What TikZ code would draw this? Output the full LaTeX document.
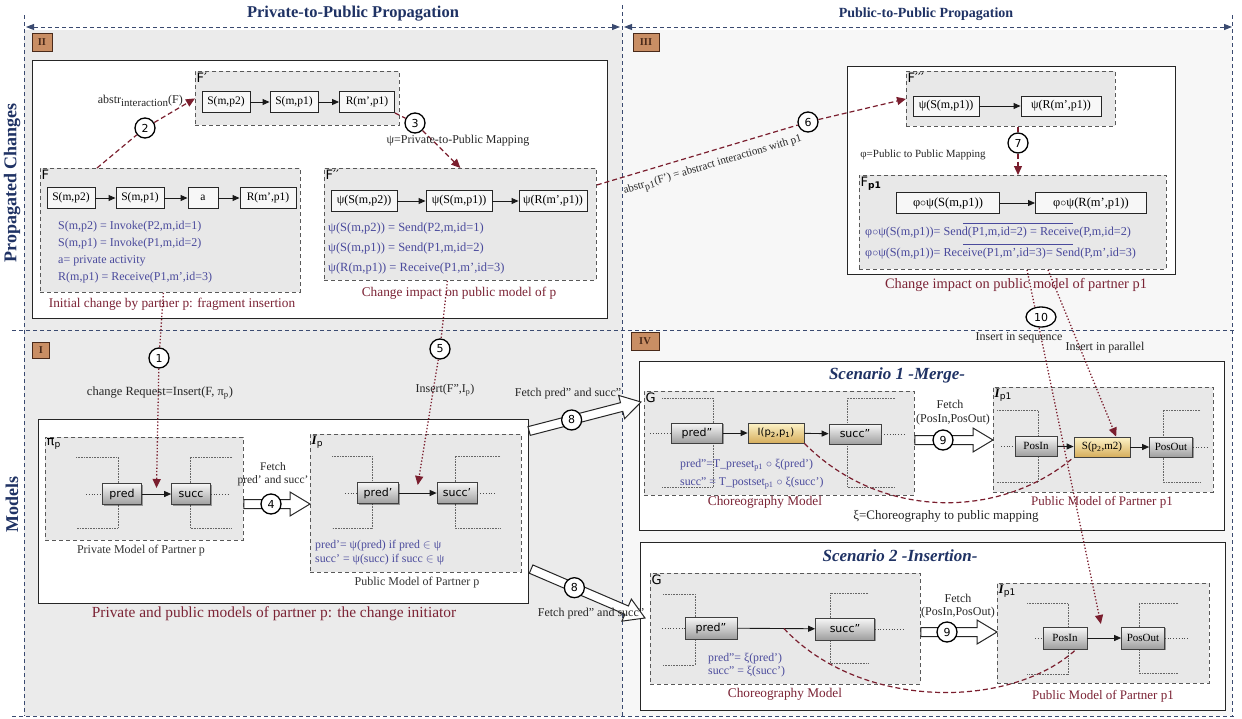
\documentclass[tikz,border=0pt]{standalone}
\usepackage{fontspec}
\setmainfont{Liberation Serif}
\setsansfont{DejaVu Sans}
\usetikzlibrary{calc,arrows.meta,shapes.geometric,shadows}

\definecolor{navy}{HTML}{1F3264}
\definecolor{sepc}{HTML}{3A4A70}
\definecolor{dred}{HTML}{7A1E2E}
\definecolor{capred}{HTML}{7B2335}
\definecolor{eqblue}{HTML}{4A4A9C}
\definecolor{tagfill}{HTML}{C98E64}
\definecolor{tagline}{HTML}{4A2A1A}
\definecolor{ytop}{HTML}{FDF3C8}
\definecolor{ybot}{HTML}{D6AE5C}

\newcommand\fsz[1]{\fontsize{#1}{#1}\selectfont}

% hollow block arrow from #1 to #2
\newcommand\fatarrow[2]{%
  \coordinate (fahead) at ($(#2)!20pt!(#1)$);
  \draw[black!85, line width=1pt, fill=white, line join=miter]
    ($(#1)!4.5pt!90:(#2)$) -- ($(fahead)!4.5pt!90:(#2)$) -- ($(fahead)!12pt!90:(#2)$)
    -- (#2) -- ($(fahead)!12pt!-90:(#2)$) -- ($(fahead)!4.5pt!-90:(#2)$)
    -- ($(#1)!4.5pt!-90:(#2)$) -- cycle;}

% open dotted bracket: #1 = outer x, #2 = inner x, #3 = top y, #4 = bottom y
\newcommand\brk[4]{\draw[brk] (#1,#3) -- (#2,#3) -- (#2,#4) -- (#1,#4);}

\begin{document}
\begin{tikzpicture}[x=1pt,y=-1pt,
  every node/.style={inner sep=1pt},
  frag/.style={draw=black!65, line width=0.8pt, dash pattern=on 4pt off 3pt, fill=black!9},
  panel/.style={draw=black!85, line width=1.1pt, fill=white},
  act/.style={draw=black!85, line width=0.9pt, fill=black!3, minimum height=21, font=\fsz{11.5}},
  gbox/.style={draw=black!75, line width=0.7pt, top color=black!3, bottom color=black!38,
     minimum height=21, font=\sffamily\fsz{11},
     drop shadow={shadow xshift=1.3pt, shadow yshift=-1.3pt, opacity=0.35, fill=black}},
  gboxs/.style={gbox, font=\fsz{11}},
  ybox/.style={gbox, top color=ytop, bottom color=ybot},
  tag/.style={draw=tagline, line width=1pt, fill=tagfill, font=\bfseries\fsz{10.5}, text=tagline},
  num/.style={circle, draw=black, line width=1.3pt, fill=white, font=\sffamily\fsz{11}, minimum size=20, inner sep=0pt},
  eq/.style={text=eqblue, font=\fsz{12}, anchor=west},
  captxt/.style={text=capred, font=\fsz{13.3}},
  dcaptxt/.style={text=black!80, font=\fsz{12}},
  note/.style={text=black!85, font=\fsz{12}},
  lbl/.style={font=\sffamily\fsz{13}, anchor=north west, inner sep=1.5pt},
  flow/.style={-{Triangle[length=7pt,width=6pt]}, line width=0.9pt, black!90},
  lead/.style={dotted, line width=0.8pt, black!70},
  brk/.style={densely dotted, line width=0.6pt, black!60},
  rdash/.style={dred, line width=1.2pt, dash pattern=on 5pt off 3pt},
  rarr/.style={rdash, -{Triangle[length=9pt,width=8pt]}},
  rdot/.style={dred, dotted, line width=1.3pt, -{Triangle[length=9pt,width=8pt]}},
  sepline/.style={sepc, line width=1pt, dash pattern=on 4pt off 3pt},
  sctitle/.style={font=\bfseries\itshape\fsz{17}, text=navy}
]
\useasboundingbox (0,0) rectangle (1242,718);

% ---------- backdrop and frame ----------
\fill[white] (0,0) rectangle (1242,718);
\fill[black!8] (24,30) rectangle (622,716);
\fill[black!3] (622,30) rectangle (1232,716);

\node[font=\bfseries\fsz{16.5}, text=navy] (hdrL) at (353,14) {Private-to-Public Propagation};
\node[font=\bfseries\fsz{14}, text=navy] (hdrR) at (926,14) {Public-to-Public Propagation};
\node[font=\bfseries\fsz{18}, text=navy, rotate=90] (rowT) at (12,183) {Propagated Changes};
\node[font=\bfseries\fsz{18}, text=navy, rotate=90] (rowB) at (12,504) {Models};

\draw[sepline] (24,15) -- (24,716);
\draw[sepline] (622,5) -- (622,718);
\draw[sepline] (1232,15) -- (1232,716);
\draw[sepline] (12,330) -- (1236,330);
\draw[sepline] (12,716) -- (1236,716);
\draw[sepline, {Triangle[length=8pt,width=6pt]}-{Triangle[length=8pt,width=6pt]}] (26,27) -- (620,27);
\draw[sepline, {Triangle[length=8pt,width=6pt]}-{Triangle[length=8pt,width=6pt]}] (624,27) -- (1232,27);

% ---------- II : initial change and its public impact ----------
\node[tag, minimum width=20, minimum height=18] (tagII) at (42,42) {II};
\node[panel, anchor=north west, minimum width=575, minimum height=258] (panelII) at (32,60) {};

\node[frag, anchor=north west, minimum width=204, minimum height=54] (Fp) at (195,71) {};
\node[lbl] (FpL) at (Fp.north west) {F′};
\node[act, minimum width=48] (fp1) at (226,102) {S(m,p2)};
\node[act, minimum width=48] (fp2) at (294,102) {S(m,p1)};
\node[act, minimum width=55] (fp3) at (367,102) {R(m',p1)};
\draw[flow] (fp1) -- (fp2);
\draw[flow] (fp2) -- (fp3);

\node[frag, anchor=north west, minimum width=260, minimum height=124] (F) at (40,168) {};
\node[lbl] (FL) at (F.north west) {F};
\node[act, minimum width=48] (f1) at (71,198) {S(m,p2)};
\node[act, minimum width=48] (f2) at (140,198) {S(m,p1)};
\node[act, minimum width=30] (f3) at (203,198) {a};
\node[act, minimum width=56] (f4) at (268,198) {R(m',p1)};
\draw[flow] (f1) -- (f2);
\draw[flow] (f2) -- (f3);
\draw[flow] (f3) -- (f4);
\node[eq] (feq1) at (57,227) {S(m,p2) = Invoke(P2,m,id=1)};
\node[eq] (feq2) at (57,244) {S(m,p1) = Invoke(P1,m,id=2)};
\node[eq] (feq3) at (57,261) {a= private activity};
\node[eq] (feq4) at (57,278) {R(m,p1) = Receive(P1,m',id=3)};
\node[captxt] (capF) at (172,304) {Initial change by partner p: fragment insertion};

\coordinate (Ftop) at ($(F.north west)+(57,0)$);
\node[num] (n2) at (145,128) {2};
\draw[rarr] (Ftop) -- (n2) -- (Fp.west);
\node[note, anchor=east] (l2) at (184,101) {abstr\raisebox{-3.5pt}{\fsz{11}interaction}(F)};

\node[frag, anchor=north west, minimum width=272, minimum height=112] (Fpp) at (324,168) {};
\node[lbl] (FppL) at (Fpp.north west) {F′′};
\node[act, minimum width=66, font=\fsz{12}] (g1) at (364,201) {ψ(S(m,p2))};
\node[act, minimum width=66, font=\fsz{12}] (g2) at (459,201) {ψ(S(m,p1))};
\node[act, minimum width=68, font=\fsz{12}] (g3) at (553,201) {ψ(R(m',p1))};
\draw[flow] (g1) -- (g2);
\draw[flow] (g2) -- (g3);
\node[eq, font=\fsz{12.5}] (geq1) at (327,228) {ψ(S(m,p2)) = Send(P2,m,id=1)};
\node[eq, font=\fsz{12.5}] (geq2) at (327,248) {ψ(S(m,p1)) = Send(P1,m,id=2)};
\node[eq, font=\fsz{12.5}] (geq3) at (327,268) {ψ(R(m,p1)) = Receive(P1,m',id=3)};
\node[captxt] (capFpp) at (459,293) {Change impact on public model of p};

\node[num] (n3) at (415,123) {3};
\draw[rarr] (fp3.south east) -- (n3) -- (Fpp.north);
\node[note] (l3) at (458,141) {ψ=Private-to-Public Mapping};

% ---------- III : propagation to partner p1 ----------
\node[tag, minimum width=26, minimum height=18] (tagIII) at (646,42) {III};
\node[panel, anchor=north west, minimum width=328, minimum height=208] (panelIII) at (847,66) {};

\node[frag, anchor=north west, minimum width=209, minimum height=55] (F3) at (906,71) {};
\node[lbl] (F3L) at (F3.north west) {F′′′};
\node[act, minimum width=66, minimum height=20, font=\fsz{12}] (h1) at (946,106) {ψ(S(m,p1))};
\node[act, minimum width=80, minimum height=20, font=\fsz{12}] (h2) at (1061,106) {ψ(R(m',p1))};
\draw[flow] (h1) -- (h2);

\node[frag, anchor=north west, minimum width=307, minimum height=94] (Fp1) at (859,175) {};
\node[lbl] (Fp1L) at (Fp1.north west) {F\textsubscript{\bfseries p1}};
\node[act, minimum width=103, font=\fsz{12.5}] (k1) at (948,203) {φ$\circ$ψ(S(m,p1))};
\node[act, minimum width=111, font=\fsz{12.5}] (k2) at (1091,203) {φ$\circ$ψ(R(m',p1))};
\draw[flow] (k1) -- (k2);
\draw[eqblue, line width=0.7pt] (963,223) -- (1073,223);
\draw[eqblue, line width=0.7pt] (963,244) -- (1073,244);
\node[eq, font=\fsz{12.2}] (keq1) at (864,233) {φ$\circ$ψ(S(m,p1))= Send(P1,m,id=2) = Receive(P,m,id=2)};
\node[eq, font=\fsz{12.2}] (keq2) at (864,254) {φ$\circ$ψ(S(m,p1))= Receive(P1,m',id=3)= Send(P,m',id=3)};
\node[captxt, font=\fsz{14.4}] (capFp1) at (1016,285) {Change impact on public model of partner p1};

\coordinate (Fppr) at ($(Fpp.north east)+(0,17)$);
\node[num] (n6) at (808,122) {6};
\draw[rarr] (Fppr) -- (n6) -- (F3.west);
\node[note, font=\fsz{11}, rotate=16.5] (l6) at (713,166) {abstr\textsubscript{\fsz{10}p1}(F') = abstract interactions with p1};

\node[num] (n7) at (1018,143) {7};
\draw[rarr] (n7 |- F3.south) -- (n7) -- (n7 |- Fp1.north);
\node[note, font=\fsz{11}] (l7) at (923,155) {φ=Public to Public Mapping};

% ---------- I : models of partner p ----------
\node[tag, minimum width=17, minimum height=16] (tagI) at (41,350) {I};
\node[panel, anchor=north west, minimum width=490, minimum height=184] (panelI) at (38,419) {};
\node[text=capred, font=\fsz{15.4}] (capI) at (274,614) {Private and public models of partner p: the change initiator};

\node[frag, anchor=north west, minimum width=198, minimum height=103] (pip) at (45,437) {};
\node[lbl] (pipL) at (pip.north west) {π\textsubscript{p}};
\brk{76}{118}{457}{528}
\brk{232}{190}{457}{528}
\node[gbox, minimum width=39] (pred) at (122,494) {pred};
\node[gbox, minimum width=39] (succ) at (191,494) {succ};
\draw[flow] (pred) -- (succ);
\draw[lead] (86,494) -- (pred.west);
\draw[lead] (succ.east) -- (228,494);
\node[dcaptxt] (cappip) at (141,551) {Private Model of Partner p};

\node[frag, anchor=north west, minimum width=211, minimum height=138] (Ip) at (310,434) {};
\node[lbl] (IpL) at (Ip.north west) {{\rmfamily\bfseries\itshape I}\textsubscript{p}};
\brk{332}{372}{456}{528}
\brk{500}{455}{456}{528}
\node[gbox, minimum width=41] (predp) at (378,493) {pred'};
\node[gbox, minimum width=40] (succp) at (457,493) {succ'};
\draw[flow] (predp) -- (succp);
\draw[lead] (345,493) -- (predp.west);
\draw[lead] (succp.east) -- (495,493);
\node[eq, font=\fsz{11.8}] (ipeq1) at (314,546) {pred'= ψ(pred) if pred $\in$ ψ};
\node[eq, font=\fsz{11.8}] (ipeq2) at (314,560) {succ' = ψ(succ) if succ $\in$ ψ};
\node[dcaptxt] (capIp) at (417,583) {Public Model of Partner p};

\coordinate (n4c) at (271,504);
\fatarrow{pip.east |- n4c}{Ip.west |- n4c}
\node[num] (n4) at (n4c) {4};
\node[note, font=\fsz{11.5}] (l4a) at (273,467) {Fetch};
\node[note, font=\fsz{11.5}] (l4b) at (273,481) {pred' and succ'};

\coordinate (Fbot) at ($(F.south)+(-7,0)$);
\coordinate (pstop) at ($(pred.east)!0.5!(succ.west)+(0,-6)$);
\node[num] (n1) at (159,358) {1};
\draw[rdot] (Fbot) -- (n1) -- (pstop);
\node[note, font=\fsz{12.5}] (l1) at (160,393) {change Request=Insert(F, π\textsubscript{p})};

\coordinate (Fppb) at ($(Fpp.south)+(-13,0)$);
\coordinate (psptop) at ($(predp.east)!0.5!(succp.west)+(0,-8)$);
\node[num] (n5) at (440,349) {5};
\draw[rdot] (Fppb) -- (n5) -- (psptop);
\node[note] (l5) at (445,390) {Insert(F'',I\textsubscript{p})};

% ---------- IV : scenarios for partner p1 ----------
\node[tag, minimum width=28, minimum height=18] (tagIV) at (645,341) {IV};

% Scenario 1
\node[panel, anchor=north west, minimum width=585, minimum height=169] (panelS1) at (639,361) {};
\node[sctitle] (t1) at (897,375) {Scenario 1 -Merge-};

\node[frag, anchor=north west, minimum width=270, minimum height=104] (G1) at (644,391) {};
\node[lbl] (G1L) at (G1.north west) {G};
\brk{662}{713}{398}{487}
\brk{895}{847}{398}{487}
\node[gbox, minimum width=51, minimum height=20] (q1) at (697,433) {pred''};
\node[ybox, minimum width=56, minimum height=20, font=\sffamily\fsz{10}] (q2) at (776,433) {I(p\textsubscript{2},p\textsubscript{1})};
\node[gbox, minimum width=52, minimum height=20] (q3) at (855,434) {succ''};
\draw[flow] (q1) -- (q2);
\draw[flow] (q2) -- (q3);
\draw[lead] (650,433) -- (q1.west);
\draw[lead] (q3.east) -- (905,434);
\node[eq, font=\fsz{11.8}] (qeq1) at (679,465) {pred''=T\_preset\textsubscript{p1} $\circ$ ξ(pred')};
\node[eq, font=\fsz{11.8}] (qeq2) at (679,483) {succ'' = T\_postset\textsubscript{p1} $\circ$ ξ(succ')};
\node[captxt] (capG1) at (765,502) {Choreography Model};

\node[frag, anchor=north west, minimum width=220, minimum height=105] (Ip1a) at (993,387) {};
\node[lbl] (Ip1aL) at (Ip1a.north west) {{\rmfamily\bfseries\itshape I}\textsubscript{p1}};
\brk{997}{1038}{410}{482}
\brk{1200}{1163}{410}{482}
\node[gboxs, minimum width=42, minimum height=20] (r1) at (1036,446) {PosIn};
\node[ybox, minimum width=56, minimum height=20, font=\fsz{11}] (r2) at (1102,447) {S(p\textsubscript{2},m2)};
\node[gboxs, minimum width=43, minimum height=20] (r3) at (1171,447) {PosOut};
\draw[flow] (r1) -- (r2);
\draw[flow] (r2) -- (r3);
\draw[lead] (1001,446) -- (r1.west);
\draw[lead] (r3.east) -- (1207,447);
\node[captxt, font=\fsz{13}] (capIp1a) at (1102,502) {Public Model of Partner p1};

\coordinate (n9ac) at (943,440);
\fatarrow{G1.east |- n9ac}{Ip1a.west |- n9ac}
\node[num] (n9a) at (n9ac) {9};
\node[note] (l9a) at (950,404) {Fetch};
\node[note] (l9b) at (953,420) {(PosIn,PosOut)};

\draw[rdash] (q2.south east) .. controls (880,520) and (1000,520) .. (r2.south west);
\node[note, font=\fsz{13}] (lxi) at (946,516) {ξ=Choreography to public mapping};

% Scenario 2
\node[panel, anchor=north west, minimum width=585, minimum height=168] (panelS2) at (640,542) {};
\node[sctitle] (t2) at (900,556) {Scenario 2 -Insertion-};

\node[frag, anchor=north west, minimum width=270, minimum height=111] (G2) at (650,573) {};
\node[lbl] (G2L) at (G2.north west) {G};
\brk{663}{695}{594}{665}
\brk{868}{830}{593}{663}
\node[gbox, minimum width=52, minimum height=22] (s1) at (711,628) {pred''};
\node[gbox, minimum width=59, minimum height=22] (s2) at (845,629) {succ''};
\draw[flow] (s1) -- (s2);
\draw[lead] (662,628) -- (s1.west);
\draw[lead] (s2.east) -- (905,629);
\node[eq, font=\fsz{11.8}] (seq1) at (707,659) {pred''= ξ(pred')};
\node[eq, font=\fsz{11.8}] (seq2) at (707,672) {succ'' = ξ(succ')};
\node[captxt] (capG2) at (785,694) {Choreography Model};

\node[frag, anchor=north west, minimum width=212, minimum height=100] (Ip1b) at (997,583) {};
\node[lbl] (Ip1bL) at (Ip1b.north west) {{\rmfamily\bfseries\itshape I}\textsubscript{p1}};
\brk{1027}{1068}{603}{674}
\brk{1178}{1139}{603}{673}
\node[gboxs, minimum width=44, minimum height=22] (u1) at (1065,638) {PosIn};
\node[gboxs, minimum width=43, minimum height=22] (u2) at (1143,638) {PosOut};
\draw[flow] (u1) -- (u2);
\draw[lead] (1035,638) -- (u1.west);
\draw[lead] (u2.east) -- (1190,638);
\node[captxt, font=\fsz{13}] (capIp1b) at (1103,696) {Public Model of Partner p1};

\coordinate (n9bc) at (947,632);
\fatarrow{G2.east |- n9bc}{Ip1b.west |- n9bc}
\node[num] (n9b) at (n9bc) {9};
\node[note] (l9c) at (958,598) {Fetch};
\node[note] (l9d) at (958,613) {(PosIn,PosOut)};

\coordinate (xs2) at ($(s1.east)!0.6!(s2.west)$);
\draw[rdash] (xs2) .. controls (860,710) and (1010,710) .. ($(u1.south)!0.5!(u1.south east)$);

% fetch arrows from the public model of p
\coordinate (a8s) at ($(panelI.north east)+(0,12)$);
\coordinate (a8e) at ($(G1.north west)+(-3,11)$);
\fatarrow{a8s}{a8e}
\node[num] (n8a) at ($(a8s)!0.38!(a8e)$) {8};
\node[note] (l8a) at (568,394) {Fetch pred'' and succ''};

\coordinate (b8s) at ($(panelI.south east)+(2,-35)$);
\coordinate (b8e) at ($(G2.north west)+(-5,45)$);
\fatarrow{b8s}{b8e}
\node[num] (n8b) at ($(b8s)!0.38!(b8e)$) {8};
\node[note] (l8b) at (591,614) {Fetch pred'' and succ''};

% insertion of the change into partner p1
\coordinate (Fp1b1) at ($(Fp1.south west)+(168,0)$);
\coordinate (Fp1b2) at ($(Fp1.south west)+(189,0)$);
\coordinate (seqT) at ($(u1.east)!0.4!(u2.west)+(0,-14)$);
\coordinate (parT) at ($(r2.north)!0.5!(r2.north east)$);
\draw[rdot] (Fp1b1) -- (seqT);
\draw[rdot] (Fp1b2) -- (parT);
\node[num, ellipse, minimum width=30, minimum height=20] (n10) at (1041,317) {10};
\node[note] (lseq) at (1019,338) {Insert in sequence};
\node[note] (lpar) at (1105,348) {Insert in parallel};

\end{tikzpicture}
\end{document}
